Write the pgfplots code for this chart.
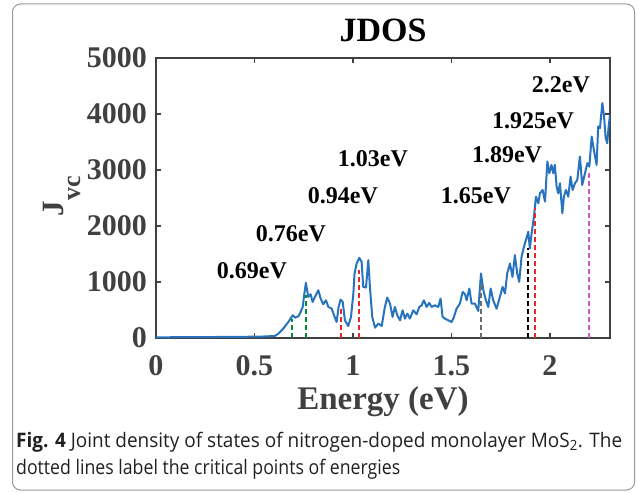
\documentclass[border=0pt]{standalone}
\usepackage{pgfplots}
\pgfplotsset{compat=1.18}
\usepackage{fontspec}
\usepackage{graphicx}
\setmainfont{Liberation Serif}
\newfontfamily\capfont{Open Sans}
\definecolor{curve}{RGB}{40,115,190}
\definecolor{axisgray}{RGB}{64,64,64}
\definecolor{dgreen}{RGB}{0,140,50}
\definecolor{dred}{RGB}{230,40,40}
\definecolor{dgray}{RGB}{110,110,110}
\definecolor{dmag}{RGB}{210,90,200}
\definecolor{capcol}{RGB}{35,31,32}
\begin{document}
\begin{tikzpicture}[x=1pt,y=1pt]
\useasboundingbox (0,0) rectangle (637,493);
\draw[draw=gray!80, line width=1pt, rounded corners=8pt] (12.5,3) rectangle (634.5,489);
\begin{axis}[
  at={(156pt,155pt)}, anchor=south west,
  scale only axis, width=454pt, height=280pt,
  xmin=0, xmax=2.305, ymin=0, ymax=5000,
  axis line style={draw=axisgray, line width=2pt},
  every tick/.style={draw=axisgray, line width=1.5pt},
  major tick length=5pt, tick align=inside,
  xtick={0,0.5,1,1.5,2}, ytick={0,1000,2000,3000,4000,5000},
  /pgf/number format/assume math mode=true,
  /pgf/number format/1000 sep={},
  tick label style={font=\fontsize{30}{30}\selectfont\bfseries, text=axisgray},
  xticklabel style={anchor=north, inner sep=0pt, yshift=-17pt},
  yticklabel style={anchor=east, inner sep=0pt, xshift=-9pt},
  title={JDOS},
  title style={font=\fontsize{34}{34}\selectfont\bfseries, at={(axis description cs:0.5,1.036)}, anchor=base, inner sep=0pt},
  xlabel={Energy (eV)},
  xlabel style={font=\fontsize{33}{33}\selectfont\bfseries, text=axisgray, at={(axis description cs:0.5,-0.257)}, anchor=base, inner sep=0pt},
  ylabel={J\raisebox{-0.55em}{\fontsize{26}{26}\selectfont vc}},
  ylabel style={font=\fontsize{31}{31}\selectfont\bfseries, text=axisgray, at={(axis description cs:-0.165,0.507)}, anchor=south, inner sep=0pt},
]
\addplot[curve, line width=2pt, line join=round] coordinates {
(0,12) (0.308,18) (0.528,24) (0.604,36) (0.621,78) (0.646,167) (0.672,286) (0.694,406)
(0.706,364) (0.723,388) (0.734,465) (0.745,555) (0.751,734) (0.761,985) (0.773,734)
(0.785,782) (0.795,644) (0.807,734) (0.824,853) (0.836,704) (0.849,603) (0.863,674)
(0.875,555) (0.892,525) (0.904,406) (0.917,286) (0.927,555) (0.937,686) (0.948,644)
(0.959,316) (0.976,215) (0.990,376) (1.002,794) (1.008,1152) (1.019,1331) (1.032,1432)
(1.044,1360) (1.052,913) (1.066,901) (1.078,1390) (1.086,913) (1.098,376) (1.112,185)
(1.129,257) (1.146,215) (1.162,555) (1.174,722) (1.188,615) (1.201,376) (1.213,555)
(1.225,406) (1.239,316) (1.252,495) (1.264,346) (1.276,436) (1.289,346) (1.306,495)
(1.323,424) (1.337,555) (1.349,585) (1.360,674) (1.374,555) (1.387,627) (1.399,555)
(1.416,585) (1.433,555) (1.445,704) (1.455,376) (1.467,346) (1.484,316) (1.501,286)
(1.513,376) (1.526,525) (1.543,615) (1.557,823) (1.569,782) (1.577,674) (1.591,883)
(1.602,615) (1.619,615) (1.636,483) (1.650,1152) (1.662,853) (1.675,674) (1.687,555)
(1.699,883) (1.712,674) (1.729,525) (1.746,734) (1.760,913) (1.772,794) (1.783,1152)
(1.797,1331) (1.810,1092) (1.822,1480) (1.834,1152) (1.844,1002) (1.856,1450) (1.868,1629)
(1.878,1748) (1.890,1898) (1.898,1599) (1.907,1868) (1.919,2166) (1.929,2524) (1.941,2405)
(1.949,2584) (1.963,2643) (1.975,2435) (1.987,3151) (1.997,2942) (2.008,3091) (2.017,2942)
(2.025,3091) (2.034,2703) (2.042,2584) (2.051,2763) (2.063,2226) (2.071,2524) (2.081,2643)
(2.093,2524) (2.105,2882) (2.115,2643) (2.127,2763) (2.139,2822) (2.152,3240) (2.164,2733)
(2.178,2942) (2.190,3121) (2.200,3061) (2.212,3598) (2.223,3359) (2.237,3091) (2.245,3777)
(2.254,3747) (2.266,4195) (2.274,3986) (2.283,3568) (2.291,3479) (2.298,3777) (2.305,3986)
};
\addplot[dgreen, line width=2pt, dash pattern=on 5pt off 3pt] coordinates {(0.69,0) (0.69,346)};
\addplot[dgreen, line width=2pt, dash pattern=on 5pt off 3pt] coordinates {(0.76,0) (0.76,764)};
\addplot[dred, line width=2pt, dash pattern=on 5pt off 3pt] coordinates {(0.94,0) (0.94,555)};
\addplot[dred, line width=2pt, dash pattern=on 5pt off 3pt] coordinates {(1.03,0) (1.03,1211)};
\addplot[dgray, line width=2pt, dash pattern=on 5pt off 3pt] coordinates {(1.65,0) (1.65,973)};
\addplot[black, line width=2pt, dash pattern=on 5pt off 3pt] coordinates {(1.89,0) (1.89,1599)};
\addplot[dred, line width=2pt, dash pattern=on 5pt off 3pt] coordinates {(1.925,0) (1.925,2315)};
\addplot[dmag, line width=2pt, dash pattern=on 5pt off 3pt] coordinates {(2.2,0) (2.2,2972)};
\begin{scope}[every node/.style={font=\fontsize{24}{24}\selectfont\bfseries, inner sep=0pt}]
\node at (axis cs:0.487,1197) {0.69eV};
\node at (axis cs:0.685,1857) {0.76eV};
\node at (axis cs:0.949,2536) {0.94eV};
\node at (axis cs:1.1015,3197) {1.03eV};
\node at (axis cs:1.624,2536) {1.65eV};
\node at (axis cs:1.782,3268) {1.89eV};
\node at (axis cs:1.914,3876) {1.925eV};
\node at (axis cs:2.056,4519) {2.2eV};
\end{scope}
\end{axis}
\node[anchor=base west, inner sep=0pt, text=capcol] at (16,46) {\resizebox{606pt}{\height}{\capfont\fontsize{20}{20}\selectfont\textbf{Fig. 4} Joint density of states of nitrogen-doped monolayer MoS\textsubscript{2}. The}};
\node[anchor=base west, inner sep=0pt, text=capcol] at (16,19) {\resizebox{384pt}{\height}{\capfont\fontsize{20}{20}\selectfont dotted lines label the critical points of energies}};
\end{tikzpicture}
\end{document}
